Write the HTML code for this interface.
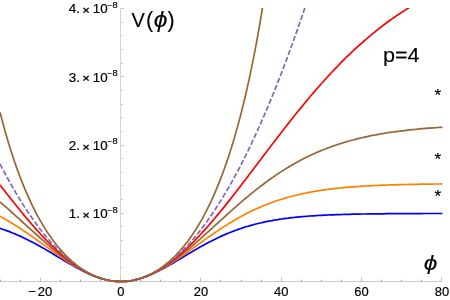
<!DOCTYPE html>
<html><head><meta charset="utf-8"><title>V(phi) plot</title>
<style>
html,body{margin:0;padding:0;background:#fff;width:450px;height:300px;overflow:hidden}
svg{display:block;will-change:transform;font-family:"Liberation Sans",sans-serif}
.ax rect{shape-rendering:crispEdges}
.cv path{fill:none;stroke-width:1.7;stroke-linejoin:round}
text{fill:#000;stroke:#000;stroke-width:0.18px}
.big text{stroke-width:0.1px}
</style></head>
<body>
<svg width="450" height="300" viewBox="0 0 450 300">
<defs><clipPath id="c"><rect x="0" y="8.0" width="450" height="275.5"/></clipPath></defs>
<rect width="450" height="300" fill="#fff"/>
<g class="ax">
<rect x="0" y="281" width="442" height="1" fill="#cbcbcb"/>
<rect x="120" y="8" width="1" height="274" fill="#d5d5d5"/>
<rect x="0" y="279" width="1" height="1" fill="#dedede"/>
<rect x="0" y="280" width="1" height="1" fill="#b0b0b0"/>
<rect x="0" y="281" width="1" height="1" fill="#adadad"/>
<rect x="20" y="279" width="1" height="1" fill="#dedede"/>
<rect x="20" y="280" width="1" height="1" fill="#b0b0b0"/>
<rect x="20" y="281" width="1" height="1" fill="#adadad"/>
<rect x="40" y="278" width="1" height="3" fill="#c2c2c2"/>
<rect x="40" y="281" width="1" height="1" fill="#a9a9a9"/>
<rect x="60" y="279" width="1" height="1" fill="#dedede"/>
<rect x="60" y="280" width="1" height="1" fill="#b0b0b0"/>
<rect x="60" y="281" width="1" height="1" fill="#adadad"/>
<rect x="80" y="279" width="1" height="1" fill="#dedede"/>
<rect x="80" y="280" width="1" height="1" fill="#b0b0b0"/>
<rect x="80" y="281" width="1" height="1" fill="#adadad"/>
<rect x="100" y="279" width="1" height="1" fill="#dedede"/>
<rect x="100" y="280" width="1" height="1" fill="#b0b0b0"/>
<rect x="100" y="281" width="1" height="1" fill="#adadad"/>
<rect x="120" y="278" width="1" height="3" fill="#c2c2c2"/>
<rect x="120" y="281" width="1" height="1" fill="#a9a9a9"/>
<rect x="140" y="279" width="1" height="1" fill="#dedede"/>
<rect x="140" y="280" width="1" height="1" fill="#b0b0b0"/>
<rect x="140" y="281" width="1" height="1" fill="#adadad"/>
<rect x="160" y="279" width="1" height="1" fill="#dedede"/>
<rect x="160" y="280" width="1" height="1" fill="#b0b0b0"/>
<rect x="160" y="281" width="1" height="1" fill="#adadad"/>
<rect x="180" y="279" width="1" height="1" fill="#dedede"/>
<rect x="180" y="280" width="1" height="1" fill="#b0b0b0"/>
<rect x="180" y="281" width="1" height="1" fill="#adadad"/>
<rect x="200" y="278" width="1" height="3" fill="#c2c2c2"/>
<rect x="200" y="281" width="1" height="1" fill="#a9a9a9"/>
<rect x="220" y="279" width="1" height="1" fill="#dedede"/>
<rect x="220" y="280" width="1" height="1" fill="#b0b0b0"/>
<rect x="220" y="281" width="1" height="1" fill="#adadad"/>
<rect x="241" y="279" width="1" height="1" fill="#dedede"/>
<rect x="241" y="280" width="1" height="1" fill="#b0b0b0"/>
<rect x="241" y="281" width="1" height="1" fill="#adadad"/>
<rect x="261" y="279" width="1" height="1" fill="#dedede"/>
<rect x="261" y="280" width="1" height="1" fill="#b0b0b0"/>
<rect x="261" y="281" width="1" height="1" fill="#adadad"/>
<rect x="281" y="278" width="1" height="3" fill="#c2c2c2"/>
<rect x="281" y="281" width="1" height="1" fill="#a9a9a9"/>
<rect x="301" y="279" width="1" height="1" fill="#dedede"/>
<rect x="301" y="280" width="1" height="1" fill="#b0b0b0"/>
<rect x="301" y="281" width="1" height="1" fill="#adadad"/>
<rect x="321" y="279" width="1" height="1" fill="#dedede"/>
<rect x="321" y="280" width="1" height="1" fill="#b0b0b0"/>
<rect x="321" y="281" width="1" height="1" fill="#adadad"/>
<rect x="341" y="279" width="1" height="1" fill="#dedede"/>
<rect x="341" y="280" width="1" height="1" fill="#b0b0b0"/>
<rect x="341" y="281" width="1" height="1" fill="#adadad"/>
<rect x="361" y="278" width="1" height="3" fill="#c2c2c2"/>
<rect x="361" y="281" width="1" height="1" fill="#a9a9a9"/>
<rect x="381" y="279" width="1" height="1" fill="#dedede"/>
<rect x="381" y="280" width="1" height="1" fill="#b0b0b0"/>
<rect x="381" y="281" width="1" height="1" fill="#adadad"/>
<rect x="401" y="279" width="1" height="1" fill="#dedede"/>
<rect x="401" y="280" width="1" height="1" fill="#b0b0b0"/>
<rect x="401" y="281" width="1" height="1" fill="#adadad"/>
<rect x="421" y="279" width="1" height="1" fill="#dedede"/>
<rect x="421" y="280" width="1" height="1" fill="#b0b0b0"/>
<rect x="421" y="281" width="1" height="1" fill="#adadad"/>
<rect x="441" y="278" width="1" height="3" fill="#c2c2c2"/>
<rect x="441" y="281" width="1" height="1" fill="#a9a9a9"/>
<rect x="121" y="267" width="2" height="1" fill="#c9c9c9"/>
<rect x="121" y="254" width="2" height="1" fill="#c9c9c9"/>
<rect x="121" y="240" width="2" height="1" fill="#c9c9c9"/>
<rect x="121" y="226" width="2" height="1" fill="#c9c9c9"/>
<rect x="121" y="213" width="3" height="1" fill="#c9c9c9"/>
<rect x="121" y="199" width="2" height="1" fill="#c9c9c9"/>
<rect x="121" y="185" width="2" height="1" fill="#c9c9c9"/>
<rect x="121" y="172" width="2" height="1" fill="#c9c9c9"/>
<rect x="121" y="158" width="2" height="1" fill="#c9c9c9"/>
<rect x="121" y="145" width="3" height="1" fill="#c9c9c9"/>
<rect x="121" y="131" width="2" height="1" fill="#c9c9c9"/>
<rect x="121" y="117" width="2" height="1" fill="#c9c9c9"/>
<rect x="121" y="104" width="2" height="1" fill="#c9c9c9"/>
<rect x="121" y="90" width="2" height="1" fill="#c9c9c9"/>
<rect x="121" y="76" width="3" height="1" fill="#c9c9c9"/>
<rect x="121" y="63" width="2" height="1" fill="#c9c9c9"/>
<rect x="121" y="49" width="2" height="1" fill="#c9c9c9"/>
<rect x="121" y="35" width="2" height="1" fill="#c9c9c9"/>
<rect x="121" y="22" width="2" height="1" fill="#c9c9c9"/>
<rect x="121" y="8" width="3" height="1" fill="#c9c9c9"/>
</g>
<g class="cv" clip-path="url(#c)">
<path d="M0.0 228.3 2.0 229.0 4.0 229.7 6.0 230.4 8.0 231.1 10.0 231.9 12.0 232.7 14.0 233.5 16.0 234.4 18.0 235.2 20.0 236.1 22.0 237.1 24.0 238.0 26.0 239.0 28.0 240.0 30.0 241.0 32.0 242.0 34.0 243.1 36.0 244.1 38.0 245.2 40.0 246.3 42.0 247.5 44.0 248.6 46.0 249.8 48.0 250.9 50.0 252.1 52.0 253.3 54.0 254.5 56.0 255.7 58.0 256.9 60.0 258.1 62.0 259.3 64.0 260.5 66.0 261.7 68.0 262.8 70.0 264.0 72.0 265.1 74.0 266.3 76.0 267.4 78.0 268.5 80.0 269.5 82.0 270.6 84.0 271.6 86.0 272.5 88.0 273.5 90.0 274.4 92.0 275.2 94.0 276.0 96.0 276.8 98.0 277.5 100.0 278.1 102.0 278.7 104.0 279.3 106.0 279.8 108.0 280.2 110.0 280.6 112.0 280.9 114.0 281.1 116.0 281.3 118.0 281.4 120.0 281.5 122.0 281.5 124.0 281.4 126.0 281.3 128.0 281.1 130.0 280.8 132.0 280.5 134.0 280.1 136.0 279.6 138.0 279.1 140.0 278.6 142.0 278.0 144.0 277.3 146.0 276.6 148.0 275.8 150.0 275.0 152.0 274.1 154.0 273.2 156.0 272.3 158.0 271.3 160.0 270.3 162.0 269.2 164.0 268.2 166.0 267.1 168.0 265.9 170.0 264.8 172.0 263.7 174.0 262.5 176.0 261.3 178.0 260.1 180.0 258.9 182.0 257.7 184.0 256.5 186.0 255.3 188.0 254.1 190.0 252.9 192.0 251.8 194.0 250.6 196.0 249.4 198.0 248.3 200.0 247.1 202.0 246.0 204.0 244.9 206.0 243.8 208.0 242.7 210.0 241.7 212.0 240.7 214.0 239.7 216.0 238.7 218.0 237.7 220.0 236.8 222.0 235.9 224.0 235.0 226.0 234.1 228.0 233.3 230.0 232.5 232.0 231.7 234.0 230.9 236.0 230.2 238.0 229.4 240.0 228.7 242.0 228.1 244.0 227.4 246.0 226.8 248.0 226.2 250.0 225.6 252.0 225.1 254.0 224.5 256.0 224.0 258.0 223.5 260.0 223.0 262.0 222.6 264.0 222.1 266.0 221.7 268.0 221.3 270.0 220.9 272.0 220.6 274.0 220.2 276.0 219.9 278.0 219.6 280.0 219.2 282.0 219.0 284.0 218.7 286.0 218.4 288.0 218.2 290.0 217.9 292.0 217.7 294.0 217.5 296.0 217.2 298.0 217.1 300.0 216.9 302.0 216.7 304.0 216.5 306.0 216.3 308.0 216.2 310.0 216.0 312.0 215.9 314.0 215.8 316.0 215.6 318.0 215.5 320.0 215.4 322.0 215.3 324.0 215.2 326.0 215.1 328.0 215.0 330.0 214.9 332.0 214.9 334.0 214.8 336.0 214.7 338.0 214.6 340.0 214.6 342.0 214.5 344.0 214.4 346.0 214.4 348.0 214.3 350.0 214.3 352.0 214.2 354.0 214.2 356.0 214.2 358.0 214.1 360.0 214.1 362.0 214.0 364.0 214.0 366.0 214.0 368.0 213.9 370.0 213.9 372.0 213.9 374.0 213.9 376.0 213.8 378.0 213.8 380.0 213.8 382.0 213.8 384.0 213.8 386.0 213.7 388.0 213.7 390.0 213.7 392.0 213.7 394.0 213.7 396.0 213.7 398.0 213.7 400.0 213.6 402.0 213.6 404.0 213.6 406.0 213.6 408.0 213.6 410.0 213.6 412.0 213.6 414.0 213.6 416.0 213.6 418.0 213.6 420.0 213.6 422.0 213.6 424.0 213.5 426.0 213.5 428.0 213.5 430.0 213.5 432.0 213.5 434.0 213.5 436.0 213.5 438.0 213.5 440.0 213.5 442.0 213.5 442.4 213.5" stroke="#0000ff"/>
<path d="M0.0 216.3 2.0 217.4 4.0 218.5 6.0 219.7 8.0 220.8 10.0 222.0 12.0 223.2 14.0 224.5 16.0 225.7 18.0 227.0 20.0 228.3 22.0 229.6 24.0 231.0 26.0 232.3 28.0 233.7 30.0 235.1 32.0 236.5 34.0 237.9 36.0 239.3 38.0 240.7 40.0 242.1 42.0 243.6 44.0 245.0 46.0 246.4 48.0 247.9 50.0 249.3 52.0 250.8 54.0 252.2 56.0 253.6 58.0 255.0 60.0 256.4 62.0 257.8 64.0 259.1 66.0 260.5 68.0 261.8 70.0 263.1 72.0 264.4 74.0 265.6 76.0 266.8 78.0 268.0 80.0 269.1 82.0 270.2 84.0 271.3 86.0 272.3 88.0 273.3 90.0 274.2 92.0 275.1 94.0 275.9 96.0 276.7 98.0 277.4 100.0 278.1 102.0 278.7 104.0 279.3 106.0 279.8 108.0 280.2 110.0 280.6 112.0 280.9 114.0 281.1 116.0 281.3 118.0 281.4 120.0 281.5 122.0 281.5 124.0 281.4 126.0 281.3 128.0 281.1 130.0 280.8 132.0 280.5 134.0 280.1 136.0 279.6 138.0 279.1 140.0 278.5 142.0 277.9 144.0 277.2 146.0 276.5 148.0 275.7 150.0 274.9 152.0 274.0 154.0 273.0 156.0 272.0 158.0 271.0 160.0 269.9 162.0 268.8 164.0 267.6 166.0 266.5 168.0 265.2 170.0 264.0 172.0 262.7 174.0 261.4 176.0 260.1 178.0 258.7 180.0 257.4 182.0 256.0 184.0 254.6 186.0 253.2 188.0 251.8 190.0 250.3 192.0 248.9 194.0 247.5 196.0 246.0 198.0 244.6 200.0 243.1 202.0 241.7 204.0 240.3 206.0 238.9 208.0 237.4 210.0 236.0 212.0 234.7 214.0 233.3 216.0 231.9 218.0 230.6 220.0 229.2 222.0 227.9 224.0 226.6 226.0 225.4 228.0 224.1 230.0 222.9 232.0 221.7 234.0 220.5 236.0 219.3 238.0 218.2 240.0 217.1 242.0 216.0 244.0 214.9 246.0 213.8 248.0 212.8 250.0 211.8 252.0 210.8 254.0 209.9 256.0 209.0 258.0 208.1 260.0 207.2 262.0 206.3 264.0 205.5 266.0 204.7 268.0 203.9 270.0 203.2 272.0 202.4 274.0 201.7 276.0 201.0 278.0 200.3 280.0 199.7 282.0 199.1 284.0 198.5 286.0 197.9 288.0 197.3 290.0 196.8 292.0 196.2 294.0 195.7 296.0 195.2 298.0 194.7 300.0 194.3 302.0 193.8 304.0 193.4 306.0 193.0 308.0 192.6 310.0 192.2 312.0 191.9 314.0 191.5 316.0 191.2 318.0 190.8 320.0 190.5 322.0 190.2 324.0 189.9 326.0 189.7 328.0 189.4 330.0 189.1 332.0 188.9 334.0 188.7 336.0 188.4 338.0 188.2 340.0 188.0 342.0 187.8 344.0 187.6 346.0 187.4 348.0 187.3 350.0 187.1 352.0 186.9 354.0 186.8 356.0 186.6 358.0 186.5 360.0 186.4 362.0 186.2 364.0 186.1 366.0 186.0 368.0 185.9 370.0 185.8 372.0 185.7 374.0 185.6 376.0 185.5 378.0 185.4 380.0 185.3 382.0 185.2 384.0 185.2 386.0 185.1 388.0 185.0 390.0 184.9 392.0 184.9 394.0 184.8 396.0 184.8 398.0 184.7 400.0 184.6 402.0 184.6 404.0 184.5 406.0 184.5 408.0 184.5 410.0 184.4 412.0 184.4 414.0 184.3 416.0 184.3 418.0 184.3 420.0 184.2 422.0 184.2 424.0 184.2 426.0 184.1 428.0 184.1 430.0 184.1 432.0 184.1 434.0 184.0 436.0 184.0 438.0 184.0 440.0 184.0 442.0 183.9 442.4 183.9" stroke="#ff8000"/>
<path d="M0.0 201.9 2.0 203.6 4.0 205.4 6.0 207.1 8.0 208.9 10.0 210.7 12.0 212.5 14.0 214.3 16.0 216.1 18.0 217.9 20.0 219.7 22.0 221.5 24.0 223.3 26.0 225.2 28.0 227.0 30.0 228.8 32.0 230.6 34.0 232.4 36.0 234.2 38.0 236.0 40.0 237.8 42.0 239.6 44.0 241.4 46.0 243.1 48.0 244.9 50.0 246.6 52.0 248.3 54.0 249.9 56.0 251.6 58.0 253.2 60.0 254.8 62.0 256.4 64.0 257.9 66.0 259.4 68.0 260.8 70.0 262.3 72.0 263.7 74.0 265.0 76.0 266.3 78.0 267.6 80.0 268.8 82.0 269.9 84.0 271.1 86.0 272.1 88.0 273.1 90.0 274.1 92.0 275.0 94.0 275.9 96.0 276.7 98.0 277.4 100.0 278.1 102.0 278.7 104.0 279.3 106.0 279.8 108.0 280.2 110.0 280.6 112.0 280.9 114.0 281.1 116.0 281.3 118.0 281.4 120.0 281.5 122.0 281.5 124.0 281.4 126.0 281.3 128.0 281.1 130.0 280.8 132.0 280.5 134.0 280.1 136.0 279.6 138.0 279.1 140.0 278.5 142.0 277.9 144.0 277.2 146.0 276.4 148.0 275.6 150.0 274.7 152.0 273.8 154.0 272.8 156.0 271.8 158.0 270.7 160.0 269.6 162.0 268.4 164.0 267.2 166.0 265.9 168.0 264.6 170.0 263.2 172.0 261.8 174.0 260.4 176.0 258.9 178.0 257.4 180.0 255.9 182.0 254.3 184.0 252.7 186.0 251.1 188.0 249.4 190.0 247.8 192.0 246.1 194.0 244.3 196.0 242.6 198.0 240.8 200.0 239.1 202.0 237.3 204.0 235.5 206.0 233.7 208.0 231.9 210.0 230.1 212.0 228.3 214.0 226.4 216.0 224.6 218.0 222.8 220.0 221.0 222.0 219.1 224.0 217.3 226.0 215.5 228.0 213.7 230.0 211.9 232.0 210.1 234.0 208.4 236.0 206.6 238.0 204.9 240.0 203.1 242.0 201.4 244.0 199.7 246.0 198.0 248.0 196.3 250.0 194.7 252.0 193.0 254.0 191.4 256.0 189.8 258.0 188.3 260.0 186.7 262.0 185.2 264.0 183.7 266.0 182.2 268.0 180.7 270.0 179.3 272.0 177.9 274.0 176.5 276.0 175.1 278.0 173.8 280.0 172.4 282.0 171.1 284.0 169.9 286.0 168.6 288.0 167.4 290.0 166.2 292.0 165.0 294.0 163.9 296.0 162.8 298.0 161.7 300.0 160.6 302.0 159.5 304.0 158.5 306.0 157.5 308.0 156.5 310.0 155.5 312.0 154.6 314.0 153.7 316.0 152.8 318.0 151.9 320.0 151.1 322.0 150.3 324.0 149.5 326.0 148.7 328.0 147.9 330.0 147.2 332.0 146.4 334.0 145.7 336.0 145.0 338.0 144.4 340.0 143.7 342.0 143.1 344.0 142.5 346.0 141.9 348.0 141.3 350.0 140.7 352.0 140.2 354.0 139.7 356.0 139.1 358.0 138.6 360.0 138.2 362.0 137.7 364.0 137.2 366.0 136.8 368.0 136.4 370.0 135.9 372.0 135.5 374.0 135.1 376.0 134.8 378.0 134.4 380.0 134.0 382.0 133.7 384.0 133.4 386.0 133.0 388.0 132.7 390.0 132.4 392.0 132.1 394.0 131.9 396.0 131.6 398.0 131.3 400.0 131.1 402.0 130.8 404.0 130.6 406.0 130.3 408.0 130.1 410.0 129.9 412.0 129.7 414.0 129.5 416.0 129.3 418.0 129.1 420.0 128.9 422.0 128.7 424.0 128.6 426.0 128.4 428.0 128.2 430.0 128.1 432.0 127.9 434.0 127.8 436.0 127.7 438.0 127.5 440.0 127.4 442.0 127.3 442.4 127.3" stroke="#996633"/>
<path d="M0.0 184.9 2.0 187.5 4.0 190.1 6.0 192.7 8.0 195.2 10.0 197.8 12.0 200.3 14.0 202.8 16.0 205.3 18.0 207.8 20.0 210.3 22.0 212.7 24.0 215.1 26.0 217.5 28.0 219.9 30.0 222.2 32.0 224.6 34.0 226.8 36.0 229.1 38.0 231.3 40.0 233.5 42.0 235.7 44.0 237.8 46.0 239.8 48.0 241.9 50.0 243.9 52.0 245.9 54.0 247.8 56.0 249.6 58.0 251.5 60.0 253.3 62.0 255.0 64.0 256.7 66.0 258.4 68.0 260.0 70.0 261.5 72.0 263.0 74.0 264.4 76.0 265.8 78.0 267.2 80.0 268.4 82.0 269.7 84.0 270.8 86.0 271.9 88.0 273.0 90.0 274.0 92.0 274.9 94.0 275.8 96.0 276.6 98.0 277.4 100.0 278.1 102.0 278.7 104.0 279.3 106.0 279.8 108.0 280.2 110.0 280.6 112.0 280.9 114.0 281.1 116.0 281.3 118.0 281.4 120.0 281.5 122.0 281.5 124.0 281.4 126.0 281.3 128.0 281.1 130.0 280.8 132.0 280.5 134.0 280.1 136.0 279.6 138.0 279.1 140.0 278.5 142.0 277.9 144.0 277.2 146.0 276.4 148.0 275.6 150.0 274.7 152.0 273.7 154.0 272.7 156.0 271.6 158.0 270.5 160.0 269.3 162.0 268.1 164.0 266.8 166.0 265.4 168.0 264.0 170.0 262.6 172.0 261.0 174.0 259.5 176.0 257.9 178.0 256.2 180.0 254.5 182.0 252.7 184.0 250.9 186.0 249.1 188.0 247.2 190.0 245.3 192.0 243.3 194.0 241.3 196.0 239.2 198.0 237.1 200.0 235.0 202.0 232.8 204.0 230.6 206.0 228.4 208.0 226.2 210.0 223.9 212.0 221.5 214.0 219.2 216.0 216.8 218.0 214.4 220.0 212.0 222.0 209.6 224.0 207.1 226.0 204.6 228.0 202.1 230.0 199.6 232.0 197.0 234.0 194.5 236.0 191.9 238.0 189.3 240.0 186.7 242.0 184.1 244.0 181.5 246.0 178.9 248.0 176.3 250.0 173.6 252.0 171.0 254.0 168.3 256.0 165.7 258.0 163.1 260.0 160.4 262.0 157.8 264.0 155.1 266.0 152.5 268.0 149.8 270.0 147.2 272.0 144.6 274.0 142.0 276.0 139.4 278.0 136.8 280.0 134.2 282.0 131.6 284.0 129.0 286.0 126.4 288.0 123.9 290.0 121.3 292.0 118.8 294.0 116.3 296.0 113.8 298.0 111.3 300.0 108.9 302.0 106.4 304.0 104.0 306.0 101.6 308.0 99.2 310.0 96.8 312.0 94.5 314.0 92.1 316.0 89.8 318.0 87.5 320.0 85.2 322.0 83.0 324.0 80.7 326.0 78.5 328.0 76.3 330.0 74.2 332.0 72.0 334.0 69.9 336.0 67.8 338.0 65.8 340.0 63.7 342.0 61.7 344.0 59.7 346.0 57.7 348.0 55.7 350.0 53.8 352.0 51.9 354.0 50.0 356.0 48.2 358.0 46.3 360.0 44.5 362.0 42.8 364.0 41.0 366.0 39.3 368.0 37.6 370.0 35.9 372.0 34.2 374.0 32.6 376.0 31.0 378.0 29.4 380.0 27.8 382.0 26.3 384.0 24.7 386.0 23.3 388.0 21.8 390.0 20.3 392.0 18.9 394.0 17.5 396.0 16.1 398.0 14.8 400.0 13.5 402.0 12.1 404.0 10.9 406.0 9.6 408.0 8.4 410.0 7.1 412.0 5.9 414.0 4.7 416.0 3.6 418.0 2.5 420.0 1.3 422.0 0.2 424.0 -0.8 426.0 -1.9 428.0 -2.9 430.0 -4.0 432.0 -5.0 434.0 -5.9 436.0 -6.9 438.0 -7.8 440.0 -8.8 442.0 -9.7 442.4 -9.9" stroke="#ff0000"/>
<path d="M0.0 164.0 2.0 167.8 4.0 171.6 6.0 175.4 8.0 179.0 10.0 182.6 12.0 186.2 14.0 189.6 16.0 193.1 18.0 196.4 20.0 199.7 22.0 202.9 24.0 206.1 26.0 209.1 28.0 212.2 30.0 215.1 32.0 218.0 34.0 220.9 36.0 223.6 38.0 226.3 40.0 229.0 42.0 231.5 44.0 234.0 46.0 236.5 48.0 238.9 50.0 241.2 52.0 243.4 54.0 245.6 56.0 247.7 58.0 249.8 60.0 251.8 62.0 253.7 64.0 255.6 66.0 257.4 68.0 259.1 70.0 260.8 72.0 262.4 74.0 263.9 76.0 265.4 78.0 266.8 80.0 268.1 82.0 269.4 84.0 270.6 86.0 271.8 88.0 272.9 90.0 273.9 92.0 274.9 94.0 275.7 96.0 276.6 98.0 277.3 100.0 278.0 102.0 278.7 104.0 279.2 106.0 279.8 108.0 280.2 110.0 280.6 112.0 280.9 114.0 281.1 116.0 281.3 118.0 281.4 120.0 281.5 122.0 281.5 124.0 281.4 126.0 281.3 128.0 281.1 130.0 280.8 132.0 280.5 134.0 280.1 136.0 279.6 138.0 279.1 140.0 278.5 142.0 277.8 144.0 277.1 146.0 276.3 148.0 275.5 150.0 274.6 152.0 273.6 154.0 272.6 156.0 271.4 158.0 270.3 160.0 269.0 162.0 267.7 164.0 266.4 166.0 264.9 168.0 263.5 170.0 261.9 172.0 260.3 174.0 258.6 176.0 256.8 178.0 255.0 180.0 253.1 182.0 251.2 184.0 249.2 186.0 247.1 188.0 245.0 190.0 242.8 192.0 240.5 194.0 238.2 196.0 235.8 198.0 233.3 200.0 230.8 202.0 228.2 204.0 225.5 206.0 222.8 208.0 220.0 210.0 217.2 212.0 214.3 214.0 211.3 216.0 208.2 218.0 205.1 220.0 201.9 222.0 198.7 224.0 195.4 226.0 192.0 228.0 188.6 230.0 185.1 232.0 181.6 234.0 177.9 236.0 174.2 238.0 170.5 240.0 166.7 242.0 162.8 244.0 158.8 246.0 154.8 248.0 150.8 250.0 146.6 252.0 142.4 254.0 138.1 256.0 133.8 258.0 129.4 260.0 125.0 262.0 120.4 264.0 115.8 266.0 111.2 268.0 106.5 270.0 101.7 272.0 96.8 274.0 91.9 276.0 86.9 278.0 81.9 280.0 76.8 282.0 71.6 284.0 66.4 286.0 61.1 288.0 55.7 290.0 50.3 292.0 44.8 294.0 39.2 296.0 33.6 298.0 27.9 300.0 22.1 302.0 16.3 304.0 10.4 306.0 4.5 308.0 -1.5 310.0 -7.6 312.0 -13.7 314.0 -19.9 316.0 -26.2 318.0 -32.6 320.0 -39.0" stroke="#7d69b6" stroke-dasharray="5.25,2.224" stroke-width="1.9"/>
<path d="M0.0 112.2 2.0 119.9 4.0 127.3 6.0 134.4 8.0 141.2 10.0 147.7 12.0 154.0 14.0 160.1 16.0 165.9 18.0 171.4 20.0 176.8 22.0 181.9 24.0 186.9 26.0 191.7 28.0 196.2 30.0 200.6 32.0 204.8 34.0 208.9 36.0 212.8 38.0 216.6 40.0 220.2 42.0 223.6 44.0 226.9 46.0 230.1 48.0 233.2 50.0 236.1 52.0 239.0 54.0 241.7 56.0 244.2 58.0 246.7 60.0 249.1 62.0 251.4 64.0 253.5 66.0 255.6 68.0 257.6 70.0 259.5 72.0 261.3 74.0 263.0 76.0 264.6 78.0 266.2 80.0 267.6 82.0 269.0 84.0 270.3 86.0 271.5 88.0 272.7 90.0 273.7 92.0 274.7 94.0 275.7 96.0 276.5 98.0 277.3 100.0 278.0 102.0 278.7 104.0 279.2 106.0 279.7 108.0 280.2 110.0 280.6 112.0 280.9 114.0 281.1 116.0 281.3 118.0 281.4 120.0 281.5 122.0 281.5 124.0 281.4 126.0 281.3 128.0 281.1 130.0 280.8 132.0 280.5 134.0 280.1 136.0 279.6 138.0 279.1 140.0 278.5 142.0 277.8 144.0 277.1 146.0 276.3 148.0 275.4 150.0 274.4 152.0 273.4 154.0 272.3 156.0 271.2 158.0 269.9 160.0 268.6 162.0 267.2 164.0 265.7 166.0 264.1 168.0 262.5 170.0 260.8 172.0 258.9 174.0 257.0 176.0 255.0 178.0 252.9 180.0 250.7 182.0 248.4 184.0 246.0 186.0 243.5 188.0 240.9 190.0 238.1 192.0 235.3 194.0 232.3 196.0 229.2 198.0 226.0 200.0 222.6 202.0 219.1 204.0 215.4 206.0 211.7 208.0 207.7 210.0 203.6 212.0 199.3 214.0 194.9 216.0 190.2 218.0 185.4 220.0 180.4 222.0 175.2 224.0 169.8 226.0 164.1 228.0 158.3 230.0 152.2 232.0 145.8 234.0 139.2 236.0 132.3 238.0 125.1 240.0 117.6 242.0 109.8 244.0 101.7 246.0 93.2 248.0 84.4 250.0 75.2 252.0 65.6 254.0 55.6 256.0 45.2 258.0 34.2 260.0 22.8 262.0 10.9 264.0 -1.5 266.0 -14.5 268.0 -28.1" stroke="#996633"/>
</g>
<g>
<text transform="translate(40.20,296.10) scale(1.0,1)" font-size="13.1" text-anchor="middle" ><tspan>−</tspan><tspan dx="1.9">20</tspan></text>
<text transform="translate(120.80,296.10) scale(0.99,1)" font-size="13.1" text-anchor="middle" >0</text>
<text transform="translate(201.00,296.10) scale(0.99,1)" font-size="13.1" text-anchor="middle" >20</text>
<text transform="translate(281.20,296.10) scale(0.99,1)" font-size="13.1" text-anchor="middle" >40</text>
<text transform="translate(361.40,296.10) scale(0.99,1)" font-size="13.1" text-anchor="middle" >60</text>
<text transform="translate(442.00,296.10) scale(0.99,1)" font-size="13.1" text-anchor="middle" >80</text>
<text transform="translate(68.80,218.15) scale(1.07,1)" font-size="12.6" text-anchor="start" >1.</text>
<text transform="translate(82.40,218.75) scale(1.07,1)" font-size="11.4" text-anchor="start" style="stroke-width:0.4px">×</text>
<text transform="translate(92.80,218.15) scale(1.06,1)" font-size="12.6" text-anchor="start" >10</text>
<text transform="translate(107.40,212.65) scale(0.95,1)" font-size="8.5" text-anchor="start" >−</text>
<text transform="translate(112.60,212.65) scale(1.06,1)" font-size="8.8" text-anchor="start" >8</text>
<text transform="translate(68.80,149.90) scale(1.07,1)" font-size="12.6" text-anchor="start" >2.</text>
<text transform="translate(82.40,150.50) scale(1.07,1)" font-size="11.4" text-anchor="start" style="stroke-width:0.4px">×</text>
<text transform="translate(92.80,149.90) scale(1.06,1)" font-size="12.6" text-anchor="start" >10</text>
<text transform="translate(107.40,144.40) scale(0.95,1)" font-size="8.5" text-anchor="start" >−</text>
<text transform="translate(112.60,144.40) scale(1.06,1)" font-size="8.8" text-anchor="start" >8</text>
<text transform="translate(68.80,81.65) scale(1.07,1)" font-size="12.6" text-anchor="start" >3.</text>
<text transform="translate(82.40,82.25) scale(1.07,1)" font-size="11.4" text-anchor="start" style="stroke-width:0.4px">×</text>
<text transform="translate(92.80,81.65) scale(1.06,1)" font-size="12.6" text-anchor="start" >10</text>
<text transform="translate(107.40,76.15) scale(0.95,1)" font-size="8.5" text-anchor="start" >−</text>
<text transform="translate(112.60,76.15) scale(1.06,1)" font-size="8.8" text-anchor="start" >8</text>
<text transform="translate(68.80,13.40) scale(1.07,1)" font-size="12.6" text-anchor="start" >4.</text>
<text transform="translate(82.40,14.00) scale(1.07,1)" font-size="11.4" text-anchor="start" style="stroke-width:0.4px">×</text>
<text transform="translate(92.80,13.40) scale(1.06,1)" font-size="12.6" text-anchor="start" >10</text>
<text transform="translate(107.40,7.90) scale(0.95,1)" font-size="8.5" text-anchor="start" >−</text>
<text transform="translate(112.60,7.90) scale(1.06,1)" font-size="8.8" text-anchor="start" >8</text>
<g class="big">
<text transform="translate(131.60,26.60) scale(1.0,1)" font-size="20" text-anchor="start" >V</text>
<text transform="translate(146.00,26.90) scale(1.0,1)" font-size="21.5" text-anchor="start" >(</text>
<text transform="translate(153.70,27.40) scale(1.15,1)" font-size="21.5" text-anchor="start" font-style="italic">ϕ</text>
<text transform="translate(167.60,26.90) scale(1.0,1)" font-size="21.5" text-anchor="start" >)</text>
<text transform="translate(383.00,62.00) scale(1.08,1)" font-size="20" text-anchor="start" >p=4</text>
<text transform="translate(423.70,269.80) scale(1.2,1)" font-size="20.5" text-anchor="start" font-style="italic">ϕ</text>
</g>
<text transform="translate(437.70,101.10) scale(1.0,1)" font-size="17" text-anchor="middle" >*</text>
<text transform="translate(437.70,165.30) scale(1.0,1)" font-size="17" text-anchor="middle" >*</text>
<text transform="translate(437.70,202.30) scale(1.0,1)" font-size="17" text-anchor="middle" >*</text>
</g>
</svg>
</body></html>
